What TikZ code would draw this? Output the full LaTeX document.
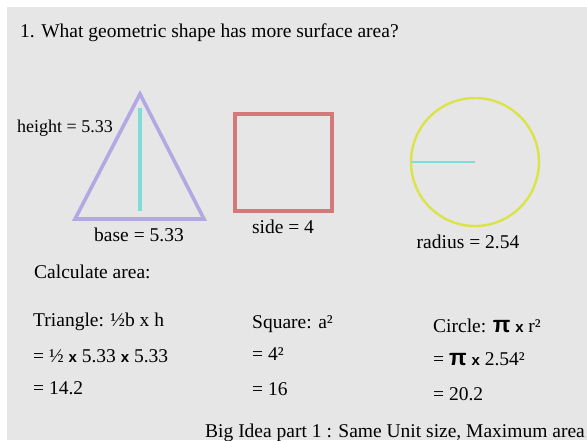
\documentclass[tikz,border=0pt]{standalone}
\usepackage{fontspec}
\setmainfont{Liberation Serif}
\newfontfamily\symfont{Liberation Sans}
\usepackage{xcolor}
\usetikzlibrary{positioning}

\definecolor{slidegray}{HTML}{E6E6E6}
\definecolor{trilav}{HTML}{B2A8E4}
\definecolor{sqred}{HTML}{D6787A}
\definecolor{circyel}{HTML}{DAE348}
\definecolor{radcyan}{HTML}{7FDCD6}

\newcommand{\bx}{{\symfont\bfseries\fontsize{15}{15}\selectfont x}}
\newcommand{\bpi}{{\symfont\bfseries\fontsize{23}{23}\selectfont π}}

\begin{document}
\begin{tikzpicture}[
    x=1pt, y=-1pt,
    txt/.style={font=\fontsize{19.5}{21}\selectfont, inner sep=0pt, anchor=base west},
    shapeline/.style={line width=3.6pt},
    radline/.style={radcyan, line width=3.4pt}
]
  \useasboundingbox (0,0) rectangle (587,440);
  \fill[white] (0,0) rectangle (587,440);
  \fill[slidegray] (7,7) rectangle (587,440);

  % Question
  \node[txt] (title) at (20,37) {1. What geometric shape has more surface area?};

  % Triangle
  \coordinate (apex) at (140,94);
  \coordinate (bl) at (75,219);
  \coordinate (br) at (204,219);
  \draw[shapeline, trilav, line join=miter] (apex) -- (bl) -- (br) -- cycle;
  \coordinate (htop) at (140,108);
  \coordinate (hbot) at (140,211);
  \draw[radline] (htop) -- (hbot);
  \node[txt, anchor=base east, font=\fontsize{18}{20}\selectfont] (hlabel) at (113,132) {height = 5.33};
  \node[txt, anchor=base] (blabel) at (139,241) {base = 5.33};

  % Square
  \node[draw=sqred, shapeline, minimum size=97pt, inner sep=0pt, outer sep=0pt] (sq) at (283.5,162.5) {};
  \node[txt, anchor=base] (slabel) at (283,233) {side = 4};

  % Circle
  \node[circle, draw=circyel, line width=2.4pt, minimum size=128pt, inner sep=0pt, outer sep=0pt] (circ) at (475,162) {};
  \draw[radline, line width=2.4pt] (circ.west) -- (circ.center);
  \node[txt, anchor=base] (rlabel) at (468,248) {radius = 2.54};

  % Calculations
  \node[txt] (calc) at (34,278) {Calculate area:};

  \node[txt] (tri1) at (33,326) {Triangle: ½b x h};
  \node[txt] (tri2) at (33,362) {= ½ \bx{} 5.33 \bx{} 5.33};
  \node[txt] (tri3) at (33,394) {= 14.2};

  \node[txt] (sq1) at (252,328) {Square: a²};
  \node[txt] (sq2) at (252,360) {= 4²};
  \node[txt] (sq3) at (252,395) {= 16};

  \node[txt] (ci1) at (433,332) {Circle: \bpi{} \bx{} r²};
  \node[txt] (ci2) at (433,365) {= \bpi{} \bx{} 2.54²};
  \node[txt] (ci3) at (433,400) {= 20.2};

  % Footer
  \node[txt, anchor=base east] (idea) at (585,437) {Big Idea part 1 : Same Unit size, Maximum area};
\end{tikzpicture}
\end{document}
